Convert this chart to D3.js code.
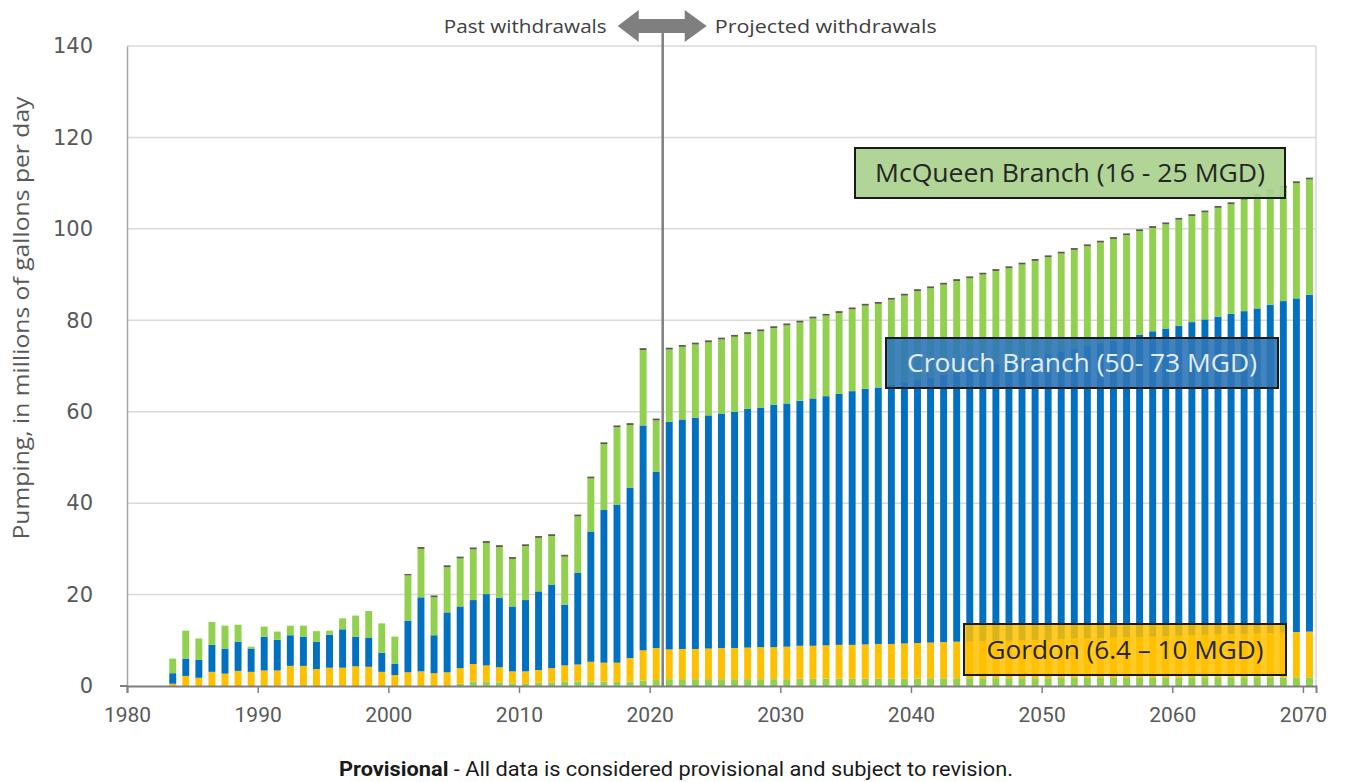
<!DOCTYPE html>
<html lang="en">
<head>
<meta charset="utf-8">
<script src="https://cdn.jsdelivr.net/npm/d3@7"></script>
<style>
  body { margin: 0; background: #fff; }
  svg { display: block; }
</style>
</head>
<body>
<svg id="chart" width="1351" height="782"></svg>
<script>

// years 1983 - 2070, one value per year in every series
var years = d3.range(1983, 2071);

// small green strip at the bottom of the bars
var other = [
  0,0,0,0,0,0,0,0,0,0, 0,0,0,0,0,0,0,0,0,0, 0,0,
  0.5,1.0,1.0,0.8,0.6,0.6,0.7,0.8,1.0,1.0,1.0,1.0,0.9,1.0,1.2,1.3,
  1.5,1.5,1.5,1.5,1.5,1.5,1.5,1.5,1.5,1.5,
  1.6,1.6,1.6,1.6,1.6,1.6,1.6,1.6,1.6,1.6,
  1.7,1.7,1.7,1.7,1.7,1.7,1.7,1.7,1.7,1.7,
  1.8,1.8,1.8,1.8,1.8,1.8,1.8,1.8,1.8,1.8,
  1.9,1.9,1.9,1.9,1.9,1.9,1.9,1.9,1.9,1.9
];
var gordon = [
  0.5,2.2,1.8,3.1,2.7,3.3,3.1,3.4,3.4,4.4,4.4,3.7,4.0,4.0,4.3,4.2,3.1,2.4,
  3.0,3.2,2.8,3.0,3.4,3.8,3.5,3.3,2.6,2.6,2.8,3.1,3.5,3.7,4.3,4.1,4.2,5.1,6.6,7.0,
  6.5,6.6,6.6,6.7,6.8,6.8,6.9,7.0,7.0,7.1, 7.2,7.2,7.3,7.4,7.4,7.5,7.6,7.6,7.7,7.8,
  7.8,7.9,8.0,8.0,8.1,8.2,8.2,8.3,8.4,8.4, 8.5,8.6,8.7,8.7,8.8,8.9,8.9,9.0,9.1,9.2,
  9.2,9.3,9.4,9.5,9.5,9.6,9.7,9.8,9.9,10.0
];
var crouch = [
  2.3,3.8,3.9,5.9,5.5,6.4,5.1,7.4,6.7,6.7,6.4,6.0,7.2,8.4,6.5,6.3,4.2,2.5,
  11.3,16.2,8.3,13.1,13.5,14.0,15.6,15.2,14.2,15.6,17.2,18.3,13.3,20.1,28.5,33.4,34.6,37.3,49.2,38.6,
  49.8,50.2,50.6,51.0,51.3,51.7,52.2,52.4,53.0,53.2, 53.6,54.1,54.5,54.9,55.5,55.9,56.1,56.7,57.1,57.6,
  58.0,58.5,58.9,59.5,60.0,60.5,61.0,61.5,62.0,62.5, 62.9,63.4,63.9,64.5,65.0,65.5,66.1,66.8,67.3,67.8,
  68.5,69.0,69.5,70.0,70.6,71.1,71.8,72.5,73.0,73.7
];
var mcqueen = [
  3.2,6.1,4.7,5.0,5.0,3.7,0.4,2.2,1.8,2.1,2.4,2.3,0.9,2.4,4.6,5.9,6.4,5.9,
  9.9,10.6,8.3,9.9,10.5,11.1,11.2,11.1,10.4,11.8,11.7,10.6,10.5,12.3,11.6,14.4,16.9,13.7,16.5,11.2,
  15.8,15.9,16.0,16.0,16.2,16.4,16.4,16.7,16.8,17.1, 17.1,17.5,17.6,17.7,17.9,18.2,18.3,18.6,19.0,19.4,
  19.5,19.7,20.0,20.0,20.2,20.4,20.5,20.7,20.9,21.2, 21.4,21.6,21.8,22.0,22.2,22.4,22.7,22.6,22.8,23.2,
  23.2,23.4,23.8,24.0,24.4,24.6,24.8,24.8,25.2,25.2
];
// thin dark cap on top of each bar
var cap = [
  0,0,0,0,0,0,0,0,0,0,0,0,0,0,0,0,0,0,
  0.3,0.4,0.4,0.4,0.4,0.4,0.4,0.4,0.4,0.4,0.4,0.4,0.4,0.4,0.4,0.4,0.4,0.4,0.4,0.4,
  0.4,0.4,0.4,0.4,0.4,0.4,0.4,0.4,0.4,0.4, 0.4,0.4,0.4,0.4,0.4,0.4,0.4,0.4,0.4,0.4,
  0.4,0.4,0.4,0.4,0.4,0.4,0.4,0.4,0.4,0.4, 0.4,0.4,0.4,0.4,0.4,0.4,0.4,0.4,0.4,0.4,
  0.4,0.4,0.4,0.4,0.4,0.4,0.4,0.4,0.4,0.4
];

var seriesKeys = ["other", "gordon", "crouch", "mcqueen", "cap"];
var seriesColors = ["#92d050", "#ffc000", "#0070c0", "#92d050", "#5e5a4c"];

var yTicks = [0, 20, 40, 60, 80, 100, 120, 140];
var xTicks = [1980, 1990, 2000, 2010, 2020, 2030, 2040, 2050, 2060, 2070];
var splitYear = 2021;

var rows = years.map(function(yr, i) {
  return { year: yr, other: other[i], gordon: gordon[i], crouch: crouch[i], mcqueen: mcqueen[i], cap: cap[i] };
});

var svg = d3.select("#chart");
var plotLeft = 127, plotRight = 1316, plotTop = 46, plotBottom = 686;

// scales
var xYear = d3.scaleLinear().domain([1980, 2071]).range([plotLeft, plotRight]);
var xBand = d3.scaleBand().domain(d3.range(1980, 2071)).range([plotLeft, plotRight])
  .paddingInner(0.47).paddingOuter(0.235);
var y = d3.scaleLinear().domain([0, 140]).range([plotBottom, plotTop]);
var color = d3.scaleOrdinal().domain(seriesKeys).range(seriesColors);

// gridlines
svg.append("g")
  .selectAll("line")
  .data(yTicks.filter(function(d) { return d > 0; }))
  .enter().append("line")
    .attr("x1", plotLeft).attr("x2", plotRight)
    .attr("y1", function(d) { return y(d); })
    .attr("y2", function(d) { return y(d); })
    .attr("stroke", "#d9d9d9")
    .attr("stroke-width", 1.5);

// right frame line
svg.append("line")
  .attr("x1", plotRight).attr("x2", plotRight).attr("y1", plotTop).attr("y2", plotBottom)
  .attr("stroke", "#d9d9d9").attr("stroke-width", 1.5);

// stacked bars
var stacked = d3.stack().keys(seriesKeys)(rows);
svg.append("g")
  .selectAll("g")
  .data(stacked)
  .enter().append("g")
    .attr("fill", function(d) { return color(d.key); })
  .selectAll("rect")
  .data(function(d) { return d; })
  .enter().append("rect")
    .attr("x", function(d) { return xBand(d.data.year); })
    .attr("width", xBand.bandwidth())
    .attr("y", function(d) { return y(d[1]); })
    .attr("height", function(d) { return y(d[0]) - y(d[1]); });

// left axis
var yAxis = svg.append("g")
  .attr("transform", "translate(" + plotLeft + ",0)")
  .call(d3.axisLeft(y).tickValues(yTicks).tickSize(0).tickPadding(34));
yAxis.select(".domain").attr("stroke", "#a6a6a6").attr("stroke-width", 1.5);
yAxis.selectAll("text")
  .attr("fill", "#595959")
  .style("font-family", "'DejaVu Sans', sans-serif")
  .style("font-size", "21px");
svg.append("line")
  .attr("x1", plotLeft - 7).attr("x2", plotLeft).attr("y1", plotBottom).attr("y2", plotBottom)
  .attr("stroke", "#7f7f7f").attr("stroke-width", 2);

// bottom axis
var xAxis = svg.append("g")
  .attr("transform", "translate(0," + plotBottom + ")")
  .call(d3.axisBottom(xYear).tickValues(xTicks).tickFormat(d3.format("d")).tickSize(7).tickPadding(14));
xAxis.select(".domain").attr("stroke", "#7f7f7f").attr("stroke-width", 2);
xAxis.selectAll(".tick line").attr("stroke", "#7f7f7f").attr("stroke-width", 1.5);
xAxis.selectAll("text")
  .attr("fill", "#595959")
  .style("font-family", "Roboto, sans-serif")
  .style("font-size", "21px");

// y axis title
svg.append("text")
  .attr("transform", "translate(29,318) rotate(-90)")
  .attr("text-anchor", "middle")
  .attr("fill", "#595959")
  .attr("textLength", 443)
  .attr("lengthAdjust", "spacingAndGlyphs")
  .style("font-family", "'Open Sans', sans-serif")
  .style("font-size", "22px")
  .text("Pumping, in millions of gallons per day");

// past / projected divider
var xSplit = xYear(splitYear);
svg.append("line")
  .attr("x1", xSplit).attr("x2", xSplit).attr("y1", 28).attr("y2", plotBottom)
  .attr("stroke", "#7f7f7f").attr("stroke-width", 2.5);

var ay = 26;
svg.append("path")
  .attr("d", "M" + (xSplit - 45) + "," + ay +
             " L" + (xSplit - 24) + "," + (ay - 16) +
             " L" + (xSplit - 24) + "," + (ay - 7) +
             " L" + (xSplit + 22) + "," + (ay - 7) +
             " L" + (xSplit + 22) + "," + (ay - 16) +
             " L" + (xSplit + 44) + "," + ay +
             " L" + (xSplit + 22) + "," + (ay + 16) +
             " L" + (xSplit + 22) + "," + (ay + 7) +
             " L" + (xSplit - 24) + "," + (ay + 7) +
             " L" + (xSplit - 24) + "," + (ay + 16) + " Z")
  .attr("fill", "#7f7f7f");

svg.append("text")
  .attr("x", xSplit - 56).attr("y", 33)
  .attr("text-anchor", "end")
  .attr("fill", "#404040")
  .attr("textLength", 163)
  .attr("lengthAdjust", "spacingAndGlyphs")
  .style("font-family", "'Open Sans', sans-serif")
  .style("font-size", "19px")
  .text("Past withdrawals");
svg.append("text")
  .attr("x", xSplit + 52).attr("y", 33)
  .attr("text-anchor", "start")
  .attr("fill", "#404040")
  .attr("textLength", 222)
  .attr("lengthAdjust", "spacingAndGlyphs")
  .style("font-family", "'Open Sans', sans-serif")
  .style("font-size", "19px")
  .text("Projected withdrawals");

// aquifer labels
var labels = [
  { text: "McQueen Branch (16 - 25 MGD)", x: 855, y: 148, w: 430, h: 50, len: 390, fill: "#a9d18e", ink: "#262626", op: 0.92 },
  { text: "Crouch Branch (50- 73 MGD)", x: 886, y: 338, w: 392, h: 50, len: 350, fill: "#2e75b6", ink: "#e4ecf6", op: 0.9 },
  { text: "Gordon (6.4 \u2013 10 MGD)", x: 964, y: 624, w: 322, h: 51, len: 277, fill: "#ffc000", ink: "#262626", op: 0.85 }
];
var lab = svg.append("g").selectAll("g").data(labels).enter().append("g");
lab.append("rect")
  .attr("x", function(d) { return d.x; })
  .attr("y", function(d) { return d.y; })
  .attr("width", function(d) { return d.w; })
  .attr("height", function(d) { return d.h; })
  .attr("fill", function(d) { return d.fill; })
  .attr("fill-opacity", function(d) { return d.op; })
  .attr("stroke", "#1a1a1a")
  .attr("stroke-width", 2);
lab.append("text")
  .attr("x", function(d) { return d.x + d.w / 2; })
  .attr("y", function(d) { return d.y + d.h / 2 + 9; })
  .attr("text-anchor", "middle")
  .attr("textLength", function(d) { return d.len; })
  .attr("lengthAdjust", "spacingAndGlyphs")
  .attr("fill", function(d) { return d.ink; })
  .style("font-family", "'Open Sans', sans-serif")
  .style("font-size", "25px")
  .text(function(d) { return d.text; });

// footnote
var foot = svg.append("text")
  .attr("x", 676).attr("y", 776)
  .attr("text-anchor", "middle")
  .attr("textLength", 674)
  .attr("lengthAdjust", "spacingAndGlyphs")
  .attr("fill", "#1a1a1a")
  .style("font-family", "Roboto, sans-serif")
  .style("font-size", "20px");
foot.append("tspan").style("font-weight", "bold").text("Provisional");
foot.append("tspan").text(" - All data is considered provisional and subject to revision.");

</script>
</body>
</html>
